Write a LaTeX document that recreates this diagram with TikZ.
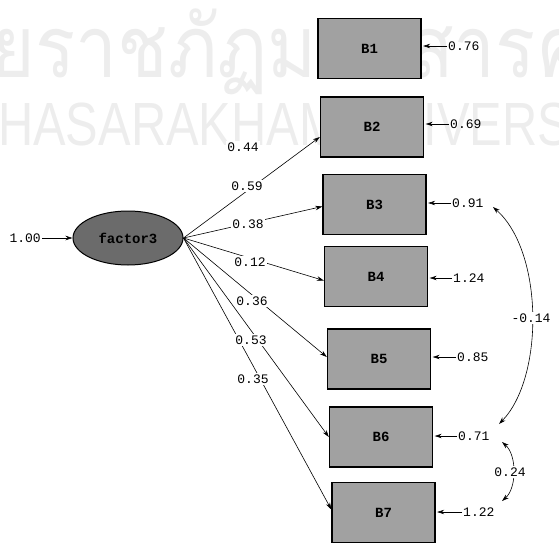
\documentclass[tikz,border=0pt]{standalone}
\usepackage{fontspec}
\setmonofont{Liberation Mono}
\newfontfamily\thaifont[Script=Thai]{Loma}
\newfontfamily\wmfont{Liberation Sans}
\usetikzlibrary{arrows.meta,shapes.geometric}
\begin{document}
\begin{tikzpicture}[x=1pt,y=-1pt,
  obs/.style={draw=black,line width=1.4pt,fill=black!37,minimum width=103pt,minimum height=60pt,inner sep=0pt,font=\ttfamily\bfseries\fontsize{14}{14}\selectfont},
  lat/.style={ellipse,draw=black,line width=1pt,fill=black!58,minimum width=110pt,minimum height=54pt,inner sep=0pt,font=\ttfamily\bfseries\fontsize{14}{14}\selectfont},
  val/.style={font=\ttfamily\fontsize{13}{13}\selectfont,inner sep=1pt},
  pathlbl/.style={val,fill=white,inner sep=1.5pt},
  arr/.style={-{Stealth[length=7pt,width=4.5pt]},line width=0.6pt},
  cov/.style={{Stealth[length=7pt,width=4.5pt]}-{Stealth[length=7pt,width=4.5pt]},line width=0.6pt},
  wm/.style={text=black!7,inner sep=0pt,anchor=west}
  ]
\useasboundingbox (0,0) rectangle (559,551);
\clip (0,0) rectangle (559,551);
% watermark
\node[wm,font=\thaifont\fontsize{86}{86}\selectfont,xscale=0.87] (wmth) at (-9,52) {ยราชภัฏมหาสารคาม};
\node[wm,font=\wmfont\fontsize{61}{61}\selectfont,xscale=0.8] (wmen) at (-2,124) {HASARAKHAM UNIVERSITY};
% latent
\node[lat] (f) at (128,238) {factor3};
\node[val,anchor=east] (one) at (42,238) {1.00};
\draw[arr] (one) -- (f.west);
% observed
\node[obs] (B1) at (369.5,48.5) {B1};
\node[obs] (B2) at (372,127) {B2};
\node[obs] (B3) at (374.5,204.5) {B3};
\node[obs] (B4) at (376,276.5) {B4};
\node[obs] (B5) at (379,359) {B5};
\node[obs] (B6) at (381,437) {B6};
\node[obs] (B7) at (383.5,512.5) {B7};
% loadings
\draw[arr] (f.east) -- ([yshift=-10pt]B2.west);
\draw[arr] (f.east) -- ([yshift=-2pt]B3.west);
\draw[arr] (f.east) -- ([yshift=-4pt]B4.west);
\draw[arr] (f.east) -- ([yshift=2pt]B5.west);
\draw[arr] (f.east) -- (B6.west);
\draw[arr] (f.east) -- ([yshift=3pt]B7.west);
\node[pathlbl] (l1) at (243,147) {0.44};
\node[pathlbl] (l2) at (247,186) {0.59};
\node[pathlbl] (l3) at (248,224) {0.38};
\node[pathlbl] (l4) at (250,262) {0.12};
\node[pathlbl] (l5) at (252,301) {0.36};
\node[pathlbl] (l6) at (251,340) {0.53};
\node[pathlbl] (l7) at (253,379) {0.35};
% error variances
\node[val,anchor=west] (e1) at (447,46) {0.76};
\node[val,anchor=west] (e2) at (449,124) {0.69};
\node[val,anchor=west] (e3) at (451,203) {0.91};
\node[val,anchor=west] (e4) at (452,278) {1.24};
\node[val,anchor=west] (e5) at (456,357) {0.85};
\node[val,anchor=west] (e6) at (457,436) {0.71};
\node[val,anchor=west] (e7) at (462,512) {1.22};
\draw[arr] (e1.west) -- ([xshift=1.5pt]B1.east |- e1.west);
\draw[arr] (e2.west) -- ([xshift=1.5pt]B2.east |- e2.west);
\draw[arr] (e3.west) -- ([xshift=1.5pt]B3.east |- e3.west);
\draw[arr] (e4.west) -- ([xshift=1.5pt]B4.east |- e4.west);
\draw[arr] (e5.west) -- ([xshift=1.5pt]B5.east |- e5.west);
\draw[arr] (e6.west) -- ([xshift=1.5pt]B6.east |- e6.west);
\draw[arr] (e7.west) -- ([xshift=1.5pt]B7.east |- e7.west);
% covariances
\coordinate (c3) at (493,207);
\coordinate (c6a) at (499,424);
\coordinate (c6b) at (502,442);
\coordinate (c7) at (502,501);
\draw[cov] (c3) .. controls (544,252) and (544,378) .. (c6a);
\draw[cov] (c6b) .. controls (517,455) and (517,488) .. (c7);
\node[pathlbl] (k1) at (531,318) {-0.14};
\node[pathlbl] (k2) at (510,472) {0.24};
\end{tikzpicture}
\end{document}
